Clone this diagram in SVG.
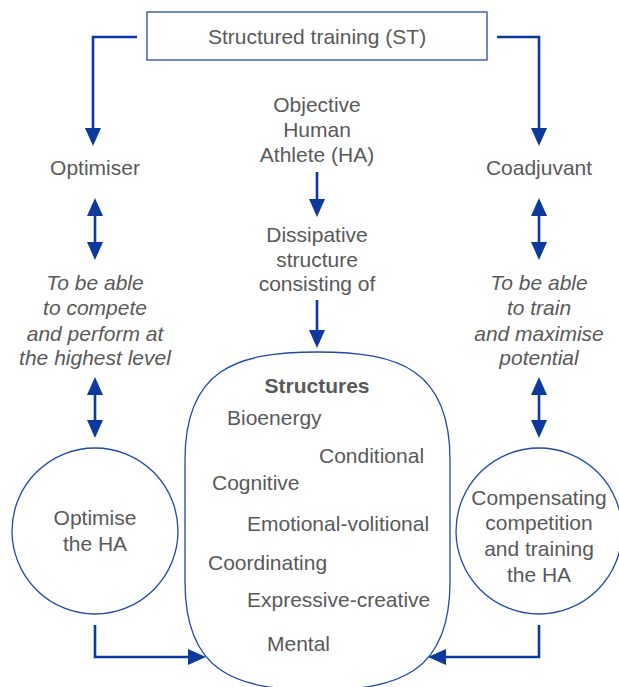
<svg xmlns="http://www.w3.org/2000/svg" width="619" height="687" viewBox="0 0 619 687">
<style>
text{font-family:"Liberation Sans",Arial,sans-serif;font-size:21px;fill:#595959}
.c{text-anchor:middle}
.i{font-style:italic}
.b{font-weight:bold}
.shape{fill:#fff;stroke:#1f4aa8;stroke-width:1.3}
.con{fill:none;stroke:#0b3a9c;stroke-width:2.6}
</style>
<defs>
<marker id="ah" viewBox="0 0 18 16" refX="14" refY="8" markerWidth="18" markerHeight="16" markerUnits="userSpaceOnUse" orient="auto-start-reverse">
<path d="M0,0 L18,8 L0,16 Z" fill="#0b3a9c"/>
</marker>
</defs>
<g id="connectors">
<polyline class="con" points="137,37 93,37 93,142" marker-end="url(#ah)"/>
<polyline class="con" points="497,37 539,37 539,142" marker-end="url(#ah)"/>
<line class="con" x1="95" y1="202" x2="95" y2="256" marker-start="url(#ah)" marker-end="url(#ah)"/>
<line class="con" x1="95" y1="381" x2="95" y2="434" marker-start="url(#ah)" marker-end="url(#ah)"/>
<line class="con" x1="539" y1="202" x2="539" y2="256" marker-start="url(#ah)" marker-end="url(#ah)"/>
<line class="con" x1="539" y1="381" x2="539" y2="434" marker-start="url(#ah)" marker-end="url(#ah)"/>
<line class="con" x1="317" y1="172" x2="317" y2="213" marker-end="url(#ah)"/>
<line class="con" x1="317" y1="300" x2="317" y2="344" marker-end="url(#ah)"/>
<polyline class="con" points="95,625 95,657 202,657" marker-end="url(#ah)"/>
<polyline class="con" points="539,625 539,657 432,657" marker-end="url(#ah)"/>
</g>
<g id="st">
<rect class="shape" x="147" y="12" width="340" height="48"/>
<text class="c" x="317" y="44">Structured training (ST)</text>
</g>
<g id="optimiser"><text class="c" x="95" y="175">Optimiser</text></g>
<g id="coadjuvant"><text class="c" x="539" y="175">Coadjuvant</text></g>
<g id="objective">
<text class="c" x="317" y="112">Objective</text>
<text class="c" x="317" y="137">Human</text>
<text class="c" x="317" y="162">Athlete (HA)</text>
</g>
<g id="dissipative">
<text class="c" x="317" y="242">Dissipative</text>
<text class="c" x="317" y="267">structure</text>
<text class="c" x="317" y="291">consisting of</text>
</g>
<g id="compete">
<text class="c i" x="95" y="290">To be able</text>
<text class="c i" x="95" y="315">to compete</text>
<text class="c i" x="95" y="341">and perform at</text>
<text class="c i" x="95" y="365">the highest level</text>
</g>
<g id="train">
<text class="c i" x="539" y="290">To be able</text>
<text class="c i" x="539" y="315">to train</text>
<text class="c i" x="539" y="341">and maximise</text>
<text class="c i" x="539" y="365">potential</text>
</g>
<g id="optimise-ha">
<circle class="shape" cx="95" cy="531" r="83"/>
<text class="c" x="95" y="525">Optimise</text>
<text class="c" x="95" y="551">the HA</text>
</g>
<g id="compensating">
<circle class="shape" cx="539" cy="531" r="83"/>
<text class="c" x="539" y="505">Compensating</text>
<text class="c" x="539" y="530">competition</text>
<text class="c" x="539" y="556">and training</text>
<text class="c" x="539" y="582">the HA</text>
</g>
<g id="structures">
<path class="shape" d="M185,460 C185,370 235,352 317.5,352 C400,352 450,370 450,460 L450,582 C450,672 400,690 317.5,690 C235,690 185,672 185,582 Z"/>
<text class="c b" x="317" y="393">Structures</text>
<text x="227" y="425">Bioenergy</text>
<text x="319" y="463">Conditional</text>
<text x="212" y="490">Cognitive</text>
<text x="247" y="531">Emotional-volitional</text>
<text x="208" y="570">Coordinating</text>
<text x="247" y="607">Expressive-creative</text>
<text x="267" y="651">Mental</text>
</g>
</svg>
